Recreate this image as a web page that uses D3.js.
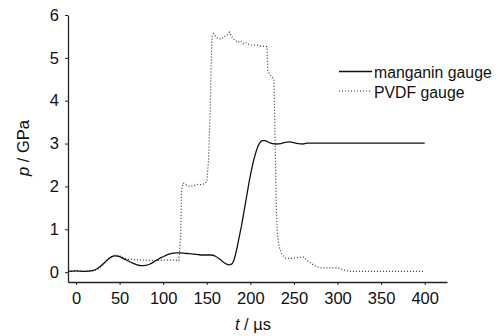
<!DOCTYPE html>
<html>
<head>
  <script src="https://cdn.jsdelivr.net/npm/d3@7"></script>
  <style>
    body { margin: 0; background: #fff; }
    svg text { font-family: "Liberation Sans", Arial, sans-serif; fill: #111; }
  </style>
</head>
<body>
  <div id="chart"></div>
  <script>
    // manganin gauge, t in microseconds, p in GPa
    const tMan = [-9, 0, 10, 20, 25, 30, 35, 40, 45, 50, 55, 60, 65, 70, 75, 80, 85, 90, 95, 100, 105, 110, 115, 120, 125, 130, 135, 140, 145, 150, 155, 160, 165, 170, 175, 178, 181, 184, 187, 190, 193, 196, 199, 202, 205, 208, 211, 214, 217, 220, 225, 230, 235, 240, 245, 250, 255, 260, 265, 300, 350, 400];
    const pMan = [0.02, 0.03, 0.02, 0.04, 0.09, 0.17, 0.27, 0.35, 0.38, 0.36, 0.31, 0.26, 0.21, 0.17, 0.15, 0.16, 0.19, 0.25, 0.31, 0.36, 0.41, 0.44, 0.45, 0.45, 0.44, 0.43, 0.42, 0.41, 0.40, 0.40, 0.40, 0.37, 0.3, 0.22, 0.17, 0.18, 0.27, 0.5, 0.8, 1.1, 1.45, 1.8, 2.15, 2.45, 2.7, 2.9, 3.02, 3.07, 3.07, 3.04, 3.0, 2.99, 3.0, 3.03, 3.04, 3.02, 3.0, 2.99, 3.01, 3.01, 3.01, 3.01];

    // PVDF gauge
    const tPvdf = [-9, 0, 10, 20, 25, 30, 35, 40, 45, 50, 55, 60, 70, 80, 90, 100, 110, 118, 120, 121, 123, 126, 130, 135, 140, 145, 150, 152, 154, 155, 156, 158, 161, 164, 167, 170, 173, 176, 178, 180, 183, 186, 189, 192, 195, 198, 201, 205, 210, 215, 219, 220, 222, 225, 227, 228, 229, 230, 231, 233, 236, 240, 245, 250, 255, 260, 265, 270, 275, 280, 290, 300, 305, 310, 315, 320, 350, 400];
    const pPvdf = [0.02, 0.02, 0.02, 0.03, 0.07, 0.15, 0.26, 0.35, 0.4, 0.38, 0.33, 0.3, 0.29, 0.28, 0.27, 0.28, 0.28, 0.27, 0.8, 1.9, 2.08, 2.04, 2.0, 2.02, 2.05, 2.04, 2.1, 2.6, 3.8, 4.8, 5.5, 5.57, 5.47, 5.45, 5.44, 5.5, 5.52, 5.6, 5.52, 5.45, 5.4, 5.36, 5.4, 5.33, 5.35, 5.32, 5.3, 5.3, 5.29, 5.27, 5.26, 4.7, 4.62, 4.55, 4.5, 3.5, 2.3, 1.4, 0.9, 0.6, 0.42, 0.33, 0.32, 0.33, 0.34, 0.36, 0.28, 0.2, 0.14, 0.1, 0.1, 0.1, 0.07, 0.03, 0.02, 0.02, 0.02, 0.02];

    const xTicks = [0, 50, 100, 150, 200, 250, 300, 350, 400];
    const yTicks = [0, 1, 2, 3, 4, 5, 6];

    const W = 497, H = 336;
    const svg = d3.select("#chart").append("svg")
      .attr("width", W).attr("height", H);

    const x = d3.scaleLinear().domain([-9.2, 425.6]).range([68, 447]);
    const y = d3.scaleLinear().domain([-0.23, 6]).range([282, 15]);

    const xAxis = svg.append("g")
      .attr("transform", "translate(0,282)")
      .call(d3.axisBottom(x).tickValues(xTicks).tickFormat(d3.format("d"))
        .tickSize(3).tickSizeOuter(0).tickPadding(7));
    const yAxis = svg.append("g")
      .attr("transform", "translate(68,0)")
      .call(d3.axisLeft(y).tickValues(yTicks).tickFormat(d3.format("d"))
        .tickSize(3).tickSizeOuter(0).tickPadding(6));

    [xAxis, yAxis].forEach(g => {
      g.select(".domain").attr("stroke", "#222").attr("stroke-width", 1.3);
      g.selectAll(".tick line").attr("stroke", "#222");
      g.selectAll(".tick text").attr("font-size", "16.5px").attr("fill", "#111")
        .attr("font-family", "'Liberation Sans', Arial, sans-serif");
    });

    const manData = tMan.map((t, i) => [t, pMan[i]]);
    const pvdfData = tPvdf.map((t, i) => [t, pPvdf[i]]);

    svg.append("path")
      .datum(pvdfData)
      .attr("fill", "none")
      .attr("stroke", "#333")
      .attr("stroke-width", 1.2)
      .attr("stroke-dasharray", "1,2")
      .attr("d", d3.line().x(d => x(d[0])).y(d => y(d[1])));

    svg.append("path")
      .datum(manData)
      .attr("fill", "none")
      .attr("stroke", "#111")
      .attr("stroke-width", 1.3)
      .attr("d", d3.line().curve(d3.curveMonotoneX).x(d => x(d[0])).y(d => y(d[1])));

    // legend
    const leg = svg.append("g");
    leg.append("line").attr("x1", 339).attr("x2", 372).attr("y1", 71.5).attr("y2", 71.5)
      .attr("stroke", "#111").attr("stroke-width", 1.3);
    leg.append("text").attr("x", 374).attr("y", 77.5).attr("font-size", "15.8px").text("manganin gauge");
    leg.append("line").attr("x1", 339).attr("x2", 372).attr("y1", 91).attr("y2", 91)
      .attr("stroke", "#333").attr("stroke-width", 1.2).attr("stroke-dasharray", "1,2");
    leg.append("text").attr("x", 374).attr("y", 97.5).attr("font-size", "15.8px").text("PVDF gauge");

    // axis titles
    const xl = svg.append("text").attr("x", 253).attr("y", 330)
      .attr("text-anchor", "middle").attr("font-size", "16.5px");
    xl.append("tspan").attr("font-style", "italic").text("t");
    xl.append("tspan").text(" / µs");

    const yl = svg.append("text").attr("transform", "translate(29,148) rotate(-90)")
      .attr("text-anchor", "middle").attr("font-size", "16.5px");
    yl.append("tspan").attr("font-style", "italic").text("p");
    yl.append("tspan").text(" / GPa");
  </script>
</body>
</html>
